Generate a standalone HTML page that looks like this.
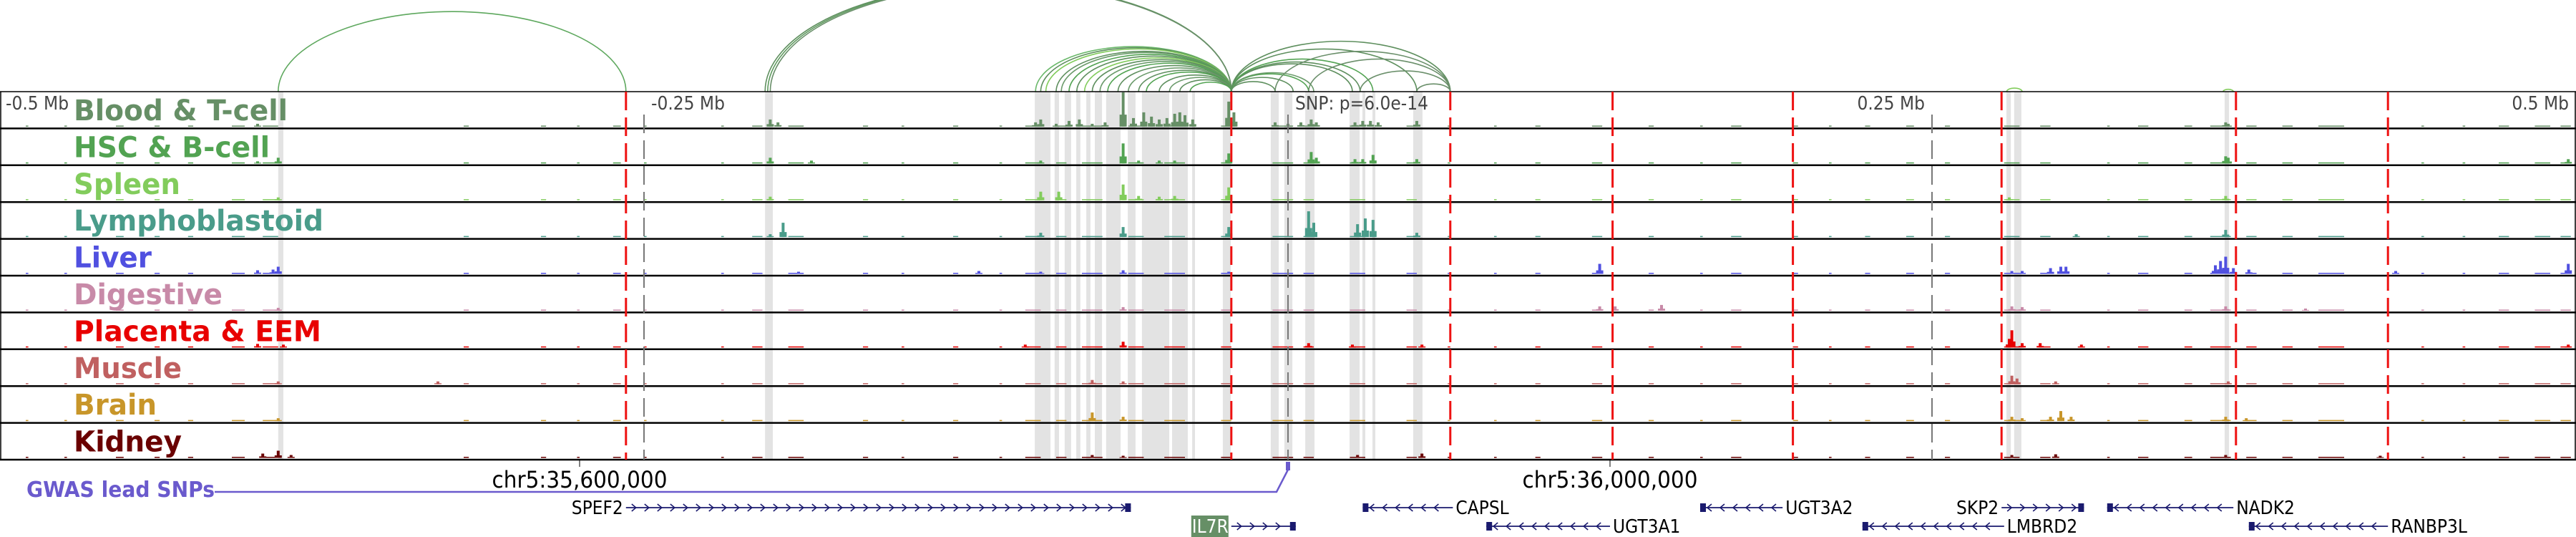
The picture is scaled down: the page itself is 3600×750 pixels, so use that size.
<!DOCTYPE html>
<html><head><meta charset="utf-8"><style>
body{margin:0;background:#fff;}
svg{display:block;font-family:"DejaVu Sans Condensed","DejaVu Sans","Liberation Sans",sans-serif;}
</style></head><body>
<svg id="fig" width="3600" height="750" viewBox="0 0 3600 750" xmlns="http://www.w3.org/2000/svg">
<g id="arcs"></g>
<g id="hl"></g>
<g id="tracks"></g>
<g id="vlines"></g>
<g id="labels"></g>
<g id="axis"></g>
<g id="genes"></g>
</svg>
<script>
// ---- data (kb offset from lead SNP) ----
const trackNames=["Blood & T-cell","HSC & B-cell","Spleen","Lymphoblastoid","Liver","Digestive","Placenta & EEM","Muscle","Brain","Kidney"];
const trackColors=["#668f66","#52a352","#82cc5c","#4a9c8a","#5050e0","#c88aa8","#e80000","#c06060","#c8962a","#6a0000"];
const labelWidths=[299,274,149,349,109,208,346,151,116,151];
const peaksBlood=[[-400,4],[-201,10],[-198,6],[-98,6],[-96,10],[-90,4],[-85,8],[-81,10],[-76,4],[-71,6],[-64,48],[-60,12],[-56,20],[-53,14],[-50,10],[-47,12],[-44,18],[-42,20],[-40,16],[-37,10],[-23,35],[-21,20],[-5,6],[0,4],[5,6],[9,10],[11,6],[26,6],[29,8],[32,8],[35,6],[50,8],[364,6],[365,4]];
const peaksHSC=[[-392,8],[-400,3],[-201,8],[-185,4],[-96,4],[-64,28],[-58,4],[-50,4],[-44,4],[-23,14],[9,16],[11,8],[26,6],[29,6],[33,12],[50,6],[364,10],[365,8],[497,6]];
const peaksSpleen=[[-392,4],[-201,5],[-96,12],[-89,12],[-64,22],[-58,6],[-50,5],[-44,6],[-23,18],[364,6],[280,4]];
const peaksLymph=[[-201,4],[-196,20],[-96,6],[-64,14],[-23,14],[8,36],[10,20],[27,18],[30,26],[33,24],[50,6],[364,10],[306,4]];
const peaksLiver=[[-400,5],[-394,6],[-392,10],[-190,3],[-120,4],[-96,3],[-64,5],[-23,3],[121,14],[281,4],[285,4],[296,8],[300,10],[302,10],[360,12],[362,18],[364,24],[367,8],[373,6],[430,4],[497,14]];
const peaksDigestive=[[-392,4],[-64,5],[121,6],[127,6],[145,8],[281,6],[285,5],[364,6],[395,3]];
const peaksPlacenta=[[-400,5],[-390,4],[-102,4],[-64,8],[8,6],[25,4],[52,4],[281,24],[280,12],[285,6],[292,6],[308,4],[497,4]];
const peaksMuscle=[[-392,4],[-330,4],[-76,6],[-64,4],[281,12],[283,8],[298,4],[365,4]];
const peaksBrain=[[-392,4],[-76,12],[-64,6],[281,6],[285,4],[296,6],[300,14],[304,6],[364,6],[372,4]];
const peaksKidney=[[-398,6],[-392,10],[-387,4],[-76,4],[-64,3],[52,6],[27,4],[298,5],[281,4],[364,4],[424,3]];
const noiseSegs=[[-490,-489],[-475,-474],[-455,-452],[-440,-438],[-427,-425],[-410,-405],[-398,-392],[-320,-318],[-290,-288],[-276,-275],[-262,-259],[-250,-249],[-220,-219],[-208,-204],[-194,-188],[-165,-163],[-150,-149],[-130,-128],[-112,-111],[-102,-96],[-90,-86],[-80,-72],[-62,-56],[-48,-40],[-26,-22],[-6,2],[6,10],[24,30],[46,50],[62,63],[80,81],[96,98],[118,122],[140,142],[160,161],[172,176],[196,198],[210,211],[224,226],[240,243],[255,257],[278,284],[292,296],[318,319],[330,334],[348,351],[358,366],[372,376],[386,390],[400,410],[440,441],[456,457],[470,474],[484,490],[494,498]];
const highlights=[[-392,-390],[-203,-200],[-98.3,-92.2],[-90.6,-88.9],[-86.7,-84.2],[-82.2,-80.6],[-78.3,-76.7],[-75,-72.2],[-70.6,-65],[-62.2,-59.2],[-56.7,-46.1],[-45,-38.9],[-37.2,-36.1],[-25.3,-22.2],[-6.7,-3.6],[-1.4,1.7],[6.7,10.3],[23.9,27.8],[28.9,30],[32.8,33.9],[48.6,52.2],[278.9,280.6],[281.9,284.7],[363.6,365.3]];
const redLines=[-257,-22,63,126,196,277,368,427];
const grayLines=[-250,0,250];
const arcsData=[[-392,-257,"#5ea85e"],[-203,-22,"#5e8f5e"],[-202,-22,"#5e9a5e"],[-201,-22,"#6a8f6a"],[-98,-22,"#6ab86a"],[-96,-22,"#5e8f5e"],[-94,-22,"#82cc5c"],[-90,-22,"#5e8f5e"],[-88,-22,"#6a9a6a"],[-85,-22,"#52a352"],[-82,-22,"#5e8f5e"],[-79,-22,"#82cc5c"],[-76,-22,"#5e8f5e"],[-73,-22,"#6a9a6a"],[-70,-22,"#52a352"],[-66,-22,"#5e8f5e"],[-62,-22,"#6a9a6a"],[-58,-22,"#5e8f5e"],[-55,-22,"#52a352"],[-50,-22,"#5e8f5e"],[-46,-22,"#6a9a6a"],[-42,-22,"#5e8f5e"],[-38,-22,"#52a352"],[-22,-5,"#5e8f5e"],[-22,2,"#5e8f5e"],[-22,8,"#52a352"],[-22,10,"#6a9a6a"],[-22,25,"#5e8f5e"],[-22,28,"#5e8f5e"],[-22,33,"#52a352"],[-22,50,"#5e8f5e"],[-22,63,"#5e8f5e"],[-5,63,"#6a8f6a"],[8,63,"#6a8f6a"],[28,63,"#6a8f6a"],[50,63,"#6a8f6a"],[279,285,"#82cc5c"],[363,367,"#82cc5c"]];
const axisTicks=[[-500,"-0.5 Mb","start",10],[-250,"-0.25 Mb","start",10],[0,"SNP: p=6.0e-14","start",10],[250,"0.25 Mb","end",-10],[500,"0.5 Mb","end",-10]];
const coordTicks=[[-275,"chr5:35,600,000"],[125,"chr5:36,000,000"]];
const genesData=[["SPEF2",-257,-61,1,0],["CAPSL",29,64,-1,0],["UGT3A2",160,192,-1,0],["SKP2",277,309,1,0],["NADK2",318,367,-1,0],["IL7R",-22,3,1,1],["UGT3A1",77,125,-1,1],["LMBRD2",223,278,-1,1],["RANBP3L",373,427,-1,1]];
const snpKb=0;

const allPeaks=[peaksBlood,peaksHSC,peaksSpleen,peaksLymph,peaksLiver,peaksDigestive,peaksPlacenta,peaksMuscle,peaksBrain,peaksKidney];
const NS="http://www.w3.org/2000/svg";
const X=kb=>1800+kb*3.6;
const TOP=128,TH=51.4,NT=10;
function mk(tag,attrs,parent){const e=document.createElementNS(NS,tag);for(const k in attrs)e.setAttribute(k,attrs[k]);parent.appendChild(e);return e;}
const g=id=>document.getElementById(id);

highlights.forEach(h=>{const r=mk('rect',{x:X(h[0]),y:TOP,width:Math.max(2,X(h[1])-X(h[0])),height:NT*TH,fill:'#e3e3e3'},g('hl'));

});

for(let i=0;i<NT;i++){
  const base=TOP+(i+1)*TH-2.5;
  const tg=mk('g',{},g('tracks'));
  
  
  noiseSegs.forEach(s=>{const r=mk('rect',{x:X(s[0]),y:base-1.5,width:X(s[1])-X(s[0]),height:1.5,fill:trackColors[i]},tg);
    
    });
  allPeaks[i].forEach(p=>{const h=p[1];
    const r=mk('rect',{x:X(p[0])-2,y:base-h,width:4,height:h,fill:trackColors[i]},tg);
    
    
    const r2=mk('rect',{x:X(p[0])-5,y:base-h*0.35,width:10,height:h*0.35,fill:trackColors[i]},tg);
    
    });
}
for(let i=0;i<=NT;i++){const l=mk('line',{x1:0,x2:3600,y1:TOP+i*TH,y2:TOP+i*TH,stroke:'#000','stroke-width':i==0?1.5:2.5},g('tracks'));
  
  }
mk('line',{x1:1,x2:1,y1:TOP,y2:TOP+NT*TH,stroke:'#000','stroke-width':1.5},g('tracks'));
mk('line',{x1:3599,x2:3599,y1:TOP,y2:TOP+NT*TH,stroke:'#000','stroke-width':1.5},g('tracks'));

redLines.forEach(k=>{const l=mk('line',{x1:X(k),x2:X(k),y1:TOP,y2:TOP+NT*TH,stroke:'#ee1111','stroke-width':3,'stroke-dasharray':'26 10'},g('vlines'));
  
  });
grayLines.forEach(k=>{const l=mk('line',{x1:X(k),x2:X(k),y1:TOP+32,y2:TOP+NT*TH,stroke:'#777','stroke-width':2,'stroke-dasharray':'26 10'},g('vlines'));
  
  });

trackNames.forEach((n,i)=>{const t=mk('text',{x:103,y:TOP+i*TH+40,'font-size':40,'font-weight':'bold',fill:trackColors[i],textLength:labelWidths[i],lengthAdjust:'spacingAndGlyphs'},g('labels'));t.textContent=n;
  
  });

axisTicks.forEach(a=>{let x=X(a[0])+a[3];if(a[0]==-500)x=8;if(a[0]==500)x=3590;
  const t=mk('text',{x:x,y:153,'font-size':26,fill:'#444','text-anchor':a[2]},g('axis'));t.textContent=a[1];
  
  });
coordTicks.forEach(c=>{mk('line',{x1:X(c[0]),x2:X(c[0]),y1:642,y2:652,stroke:'#000','stroke-width':1},g('axis'));
  const t=mk('text',{x:X(c[0]),y:681,'font-size':32,fill:'#000','text-anchor':'middle',textLength:245,lengthAdjust:'spacingAndGlyphs'},g('axis'));t.textContent=c[1];
  
  });

arcsData.forEach(a=>{const x1=X(a[0]),x2=X(a[1]),rx=(x2-x1)/2,ry=Math.min(rx*0.46,150);
  const p=mk('path',{d:`M${x1},${TOP} A${rx},${ry} 0 0 1 ${x2},${TOP}`,fill:'none',stroke:a[2],'stroke-width':1.6},g('arcs'));
  
  });

const gw=mk('text',{x:37,y:694,'font-size':30,'font-weight':'bold',fill:'#6a5acd',textLength:263,lengthAdjust:'spacingAndGlyphs'},g('genes'));gw.textContent='GWAS lead SNPs';


const sx=X(snpKb);
const gl=mk('polyline',{points:`300,687 ${sx-16},687 ${sx},656`,fill:'none',stroke:'#6a5acd','stroke-width':2.5},g('genes'));


const sm=mk('rect',{x:sx-3,y:645,width:6,height:12,fill:'#6a5acd'},g('genes'));



genesData.forEach(d=>{const [name,s,e,str,row]=d;const x1=X(s),x2=X(e),y=row==0?709:735;
  const gg=mk('g',{},g('genes'));
  
  
  mk('line',{x1:x1,x2:x2,y1:y,y2:y,stroke:'#1a1a6e','stroke-width':1.8},gg);
  let dpath='';for(let x=x1+12;x<x2-8;x+=18){dpath+=str>0?`M${x-4},${y-5} L${x+2},${y} L${x-4},${y+5} `:`M${x+4},${y-5} L${x-2},${y} L${x+4},${y+5} `;}
  mk('path',{d:dpath,fill:'none',stroke:'#1a1a6e','stroke-width':1.6},gg);
  const bx=str>0?x2-8:x1;mk('rect',{x:bx,y:y-6,width:8,height:12,fill:'#1a1a6e'},gg);
  const t=mk('text',{'font-size':26,fill:'#000',y:y+9},gg);t.textContent=name;
  if(str>0){t.setAttribute('x',x1-4);t.setAttribute('text-anchor','end');}else{t.setAttribute('x',x2+4);}
  if(name==='IL7R'){const w=52;mk('rect',{x:x1-4-w,y:y-15,width:w,height:30,fill:'#668f66'},gg);t.setAttribute('fill','#fff');gg.appendChild(t);}
});
</script>
</body></html>
